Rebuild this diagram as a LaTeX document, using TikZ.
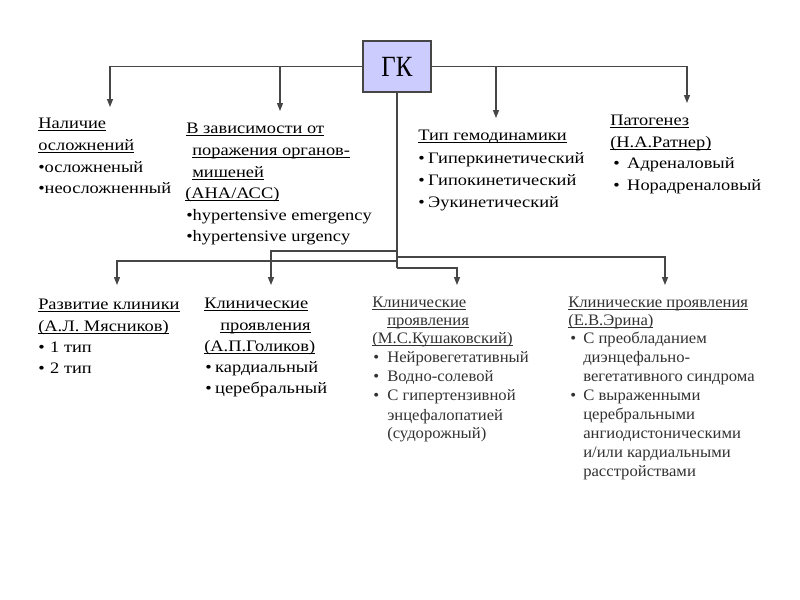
\documentclass[tikz,border=0pt]{standalone}
\usepackage{fontspec}
\usepackage{graphicx}
\setmainfont{Liberation Serif}
\usetikzlibrary{arrows.meta}
\newcommand\myul[1]{\setbox0=\hbox{#1}\rlap{\rule[-2.4pt]{\wd0}{0.6pt}}\box0}
\newcommand\bul[1]{\makebox[#1][l]{•}}
\newcommand\wt[1]{\scalebox{1.15}[1]{#1}}
\newcommand\ws[1]{\scalebox{1.04}[1]{#1}}
\definecolor{gkfill}{RGB}{204,204,255}
\definecolor{lncol}{RGB}{70,70,70}
\definecolor{graytxt}{RGB}{50,50,50}
\tikzset{
  txt/.style={anchor=base west, inner sep=0pt, font=\fontsize{12}{14}\selectfont, text=black},
  stxt/.style={anchor=base west, inner sep=0pt, font=\fontsize{12}{14}\selectfont, text=graytxt},
  conn/.style={draw=lncol, line width=0.85pt},
  arr/.style={conn, -{Triangle[length=6pt,width=4.5pt]}},
  gkbox/.style={draw=lncol, line width=0.85pt, fill=gkfill, minimum width=51pt, minimum height=38.25pt, inner sep=0pt, font=\fontsize{22}{24}\selectfont}
}
\begin{document}
\begin{tikzpicture}[x=0.75pt,y=-0.75pt]
\useasboundingbox[fill=white] (0,0) rectangle (800,600);
\node[gkbox] (gk) at (397,66.5) {\scalebox{0.85}[1]{ГК}};
% arrow tips
\coordinate (a1) at (110,107);
\coordinate (a2) at (280,111);
\coordinate (a3) at (496,118);
\coordinate (a4) at (687,103);
\coordinate (j1) at (397,251);
\coordinate (j2) at (397,261);
\coordinate (j3) at (397,257);
\coordinate (j4) at (397,268);
\coordinate (b1) at (117,285);
\coordinate (b2) at (271,285);
\coordinate (b3) at (457,285);
\coordinate (b4) at (665,285);
\draw[arr] (gk.west) -| (a1);
\draw[arr] (gk.west -| a2) -- (a2);
\draw[arr] (gk.east) -| (a4);
\draw[arr] (gk.east -| a3) -- (a3);
\draw[conn] (gk.south) -- (j4);
\draw[arr] (j1) -| (b2);
\draw[arr] (j2) -| (b1);
\draw[arr] (j3) -| (b4);
\draw[arr] (j4) -| (b3);
% top column 1
\node[txt] (t1a) at (38,128) {\wt{\myul{Наличие}}};
\node[txt] (t1b) at (38,150) {\wt{\myul{осложнений}}};
\node[txt] (t1c) at (38,172) {\wt{•осложненый}};
\node[txt] (t1d) at (38,193) {\wt{•неосложненный}};
% top column 2
\node[txt] (t2a) at (186,133) {\wt{\myul{В зависимости от}}};
\node[txt] (t2b) at (192,155) {\wt{\myul{поражения органов-}}};
\node[txt] (t2c) at (192,177) {\wt{\myul{мишеней}}};
\node[txt] (t2d) at (185,198) {\wt{\myul{(АНА/АСС)}}};
\node[txt] (t2e) at (186,220) {\wt{•hypertensive emergency}};
\node[txt] (t2f) at (186,241) {\wt{•hypertensive urgency}};
% top column 3
\node[txt] (t3a) at (418,140) {\wt{\myul{Тип гемодинамики}}};
\node[txt] (t3b) at (418,163) {\wt{\bul{6.5pt}Гиперкинетический}};
\node[txt] (t3c) at (418,185) {\wt{\bul{6.5pt}Гипокинетический}};
\node[txt] (t3d) at (418,207) {\wt{\bul{6.5pt}Эукинетический}};
% top column 4
\node[txt] (t4a) at (610,125) {\wt{\myul{Патогенез}}};
\node[txt] (t4b) at (610,147) {\wt{\myul{(Н.А.Ратнер)}}};
\node[txt] (t4c) at (613,168) {\wt{\bul{9.1pt}Адреналовый}};
\node[txt] (t4d) at (613,190) {\wt{\bul{9.1pt}Норадреналовый}};
% lower column 1
\node[txt] (l1a) at (38,309) {\wt{\myul{Развитие клиники}}};
\node[txt] (l1b) at (38,331) {\wt{\myul{(А.Л. Мясников)}}};
\node[txt] (l1c) at (38,352) {\wt{\bul{7.8pt}1 тип}};
\node[txt] (l1d) at (38,373) {\wt{\bul{7.8pt}2 тип}};
% lower column 2
\node[txt] (l2a) at (204,308) {\wt{\myul{Клинические}}};
\node[txt] (l2b) at (220,330) {\wt{\myul{проявления}}};
\node[txt] (l2c) at (204,351) {\wt{\myul{(А.П.Голиков)}}};
\node[txt] (l2d) at (205,372) {\wt{\bul{6.5pt}кардиальный}};
\node[txt] (l2e) at (205,393) {\wt{\bul{6.5pt}церебральный}};
% lower column 3
\node[stxt] (l3a) at (372,307) {\ws{\myul{Клинические}}};
\node[stxt] (l3b) at (387,325) {\ws{\myul{проявления}}};
\node[stxt] (l3c) at (372,343) {\ws{\myul{(М.С.Кушаковский)}}};
\node[stxt] (l3d) at (373,362) {\ws{\bul{10.1pt}Нейровегетативный}};
\node[stxt] (l3e) at (373,381) {\ws{\bul{10.1pt}Водно-солевой}};
\node[stxt] (l3f) at (373,400) {\ws{\bul{10.1pt}С гипертензивной}};
\node[stxt] (l3g) at (387,420) {\ws{энцефалопатией}};
\node[stxt] (l3h) at (387,438) {\ws{(судорожный)}};
% lower column 4
\node[stxt] (l4a) at (568,307) {\ws{\myul{Клинические проявления}}};
\node[stxt] (l4b) at (568,325) {\ws{\myul{(Е.В.Эрина)}}};
\node[stxt] (l4c) at (570,343) {\ws{\bul{9.4pt}С преобладанием}};
\node[stxt] (l4d) at (583,362) {\ws{диэнцефально-}};
\node[stxt] (l4e) at (583,381) {\ws{вегетативного синдрома}};
\node[stxt] (l4f) at (570,400) {\ws{\bul{9.4pt}С выраженными}};
\node[stxt] (l4g) at (583,419) {\ws{церебральными}};
\node[stxt] (l4h) at (583,438) {\ws{ангиодистоническими}};
\node[stxt] (l4i) at (583,457) {\ws{и/или кардиальными}};
\node[stxt] (l4j) at (583,476) {\ws{расстройствами}};
\end{tikzpicture}
\end{document}
